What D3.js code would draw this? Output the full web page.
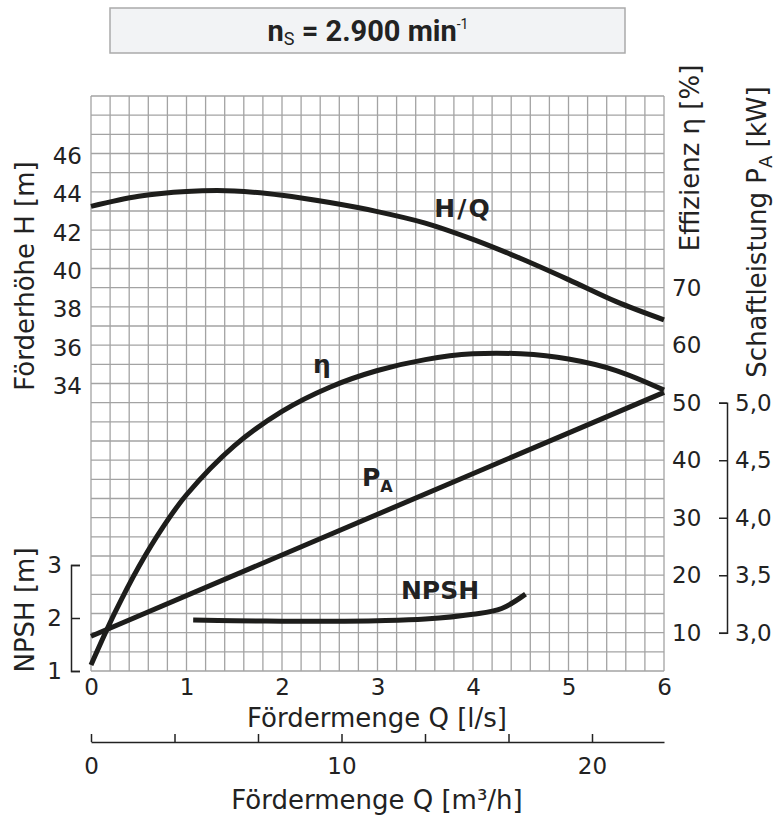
<!DOCTYPE html>
<html lang="de">
<head>
<meta charset="UTF-8">
<title>Pumpenkennlinie</title>
<script src="https://d3js.org/d3.v7.min.js"></script>
<style>
  body { margin: 0; background: #fff; }
  text { font-family: "DejaVu Sans", Verdana, sans-serif; fill: #222; }
  .tick text { font-size: 23px; }
  .axis-title { font-size: 26px; }
  .curve { fill: none; stroke: #1d1d1b; stroke-width: 5; }
  .grid line { stroke: #a3a3a3; stroke-width: 1.3; }
  .lbl { font-weight: bold; font-size: 25px; }
</style>
</head>
<body>
<div id="chart"></div>
<script>
// Förderhöhe H/Q [m] over Q [l/s]
const hqQ = [0, 0.5, 1, 1.5, 2, 2.5, 3, 3.5, 4, 4.5, 5, 5.5, 6];
const hqH = [43.37, 43.9, 44.15, 44.18, 43.95, 43.57, 43.1, 42.5, 41.65, 40.65, 39.55, 38.4, 37.45];

// Effizienz eta [%]
const etaQ = [0, 0.25, 0.5, 0.75, 1, 1.5, 2, 2.5, 3, 3.5, 4, 4.5, 5, 5.5, 6];
const etaV = [4.4, 13.5, 21.5, 28.3, 34.0, 42.5, 48.5, 52.7, 55.6, 57.5, 58.5, 58.5, 57.6, 55.6, 52.2];

// Schaftleistung P_A [kW]
const paQ = [0, 6];
const paV = [2.97, 5.09];

// NPSH [m]
const npshQ = [1.07, 1.5, 2, 2.5, 3, 3.5, 4, 4.3, 4.55];
const npshV = [1.96, 1.95, 1.94, 1.94, 1.95, 1.98, 2.07, 2.18, 2.45];

// tick labels
const hTicks = [34, 36, 38, 40, 42, 44, 46];
const etaTicks = [10, 20, 30, 40, 50, 60, 70];
const paTicks = [3.0, 3.5, 4.0, 4.5, 5.0];
const npshTicks = [1, 2, 3];
const qTicks = [0, 1, 2, 3, 4, 5, 6];
const m3hTicks = [0, 1, 2, 3, 4, 5, 6].map(i => i * 10 / 3);
const m3hLabels = [0, 10, 20];

const W = 780, H = 817;
const pLeft = 91, pRight = 664, pTop = 96, pBottom = 671;

const svg = d3.select("#chart").append("svg")
    .attr("width", W)
    .attr("height", H);

// scales
const x = d3.scaleLinear().domain([0, 6]).range([pLeft, pRight]);
const yH = d3.scaleLinear().domain([46, 34]).range([156, 386]);
const yEta = d3.scaleLinear().domain([70, 10]).range([287.7, 632.8]);
const yPA = d3.scaleLinear().domain([5, 3]).range([402.7, 632.8]);
const yN = d3.scaleLinear().domain([3, 1]).range([565, 671]);
const xM = d3.scaleLinear().domain([0, 20]).range([pLeft, 592]);
const xMfull = xM.copy().domain([0, xM.invert(pRight)]).range([pLeft, pRight]);

// grid 30 x 30
const gx = d3.scaleLinear().domain([0, 30]).range([pLeft, pRight]);
const gy = d3.scaleLinear().domain([0, 30]).range([pTop, pBottom]);
const grid = svg.append("g").attr("class", "grid");
grid.selectAll(".v").data(d3.range(31)).enter().append("line")
    .attr("x1", d => gx(d)).attr("x2", d => gx(d))
    .attr("y1", pTop).attr("y2", pBottom);
grid.selectAll(".h").data(d3.range(31)).enter().append("line")
    .attr("x1", pLeft).attr("x2", pRight)
    .attr("y1", d => gy(d)).attr("y2", d => gy(d));

// title box
svg.append("rect")
    .attr("x", 110).attr("y", 8).attr("width", 515).attr("height", 45)
    .attr("fill", "#f2f3f5").attr("stroke", "#aaaaaa").attr("stroke-width", 1.5);
const title = svg.append("text")
    .attr("x", 368).attr("y", 41)
    .attr("text-anchor", "middle")
    .style("font-family", "Roboto, sans-serif")
    .style("font-weight", "bold")
    .style("font-size", "29px");
title.append("tspan").text("n");
title.append("tspan").attr("dy", 4).style("font-size", "18px").style("font-weight", "normal").text("S");
title.append("tspan").attr("dy", -4).text(" = 2.900 min");
title.append("tspan").attr("dy", -12).style("font-size", "14px").style("font-weight", "normal").text("-1");

// left H axis
const axH = svg.append("g").attr("transform", `translate(${pLeft - 9},0)`)
    .call(d3.axisLeft(yH).tickValues(hTicks).tickSize(0).tickPadding(0));
axH.select(".domain").remove();

// NPSH axis (bracket)
const axN = svg.append("g").attr("transform", "translate(71,0)")
    .call(d3.axisLeft(yN).tickValues(npshTicks).tickSize(-9).tickPadding(9)
        .tickFormat(d3.format("d")));

// right eta axis
const axE = svg.append("g").attr("transform", `translate(${pRight + 8},0)`)
    .call(d3.axisRight(yEta).tickValues(etaTicks).tickSize(0).tickPadding(0));
axE.select(".domain").remove();

// right P_A axis (bracket)
const axP = svg.append("g").attr("transform", "translate(727,0)")
    .call(d3.axisRight(yPA).tickValues(paTicks).tickSize(-8).tickPadding(8)
        .tickFormat(d => d3.format(".1f")(d).replace(".", ",")));

// bottom Q axis [l/s]
const axQ = svg.append("g").attr("transform", `translate(0,${pBottom + 8})`)
    .call(d3.axisBottom(x).tickValues(qTicks).tickSize(0).tickPadding(0)
        .tickFormat(d3.format("d")));
axQ.select(".domain").remove();

// bottom Q axis [m3/h]
const axM = svg.append("g").attr("transform", "translate(0,742)")
    .call(d3.axisBottom(xMfull).tickValues(m3hTicks).tickSize(-8).tickSizeOuter(0).tickPadding(16)
        .tickFormat(d => m3hLabels.some(v => Math.abs(v - d) < 1e-6) ? Math.round(d) : ""));

svg.selectAll(".domain, .tick line").attr("stroke", "#222").attr("stroke-width", 1.5);

// axis titles
svg.append("text").attr("class", "axis-title")
    .attr("transform", "translate(34,276) rotate(-90)")
    .attr("text-anchor", "middle").text("Förderhöhe H [m]");
svg.append("text").attr("class", "axis-title")
    .attr("transform", "translate(34,610) rotate(-90)")
    .attr("text-anchor", "middle").text("NPSH [m]");
svg.append("text").attr("class", "axis-title")
    .attr("transform", "translate(699,158) rotate(-90)")
    .attr("text-anchor", "middle").text("Effizienz η [%]");
const tPA = svg.append("text").attr("class", "axis-title")
    .attr("transform", "translate(766,232) rotate(-90)")
    .attr("text-anchor", "middle");
tPA.append("tspan").text("Schaftleistung P");
tPA.append("tspan").attr("dy", 6).style("font-size", "18px").text("A");
tPA.append("tspan").attr("dy", -6).text(" [kW]");
svg.append("text").attr("class", "axis-title")
    .attr("x", 377).attr("y", 727)
    .attr("text-anchor", "middle").text("Fördermenge Q [l/s]");
svg.append("text").attr("class", "axis-title")
    .attr("x", 377).attr("y", 809)
    .attr("text-anchor", "middle").text("Fördermenge Q [m³/h]");

// curves
const mk = (qs, vs) => qs.map((q, i) => [q, vs[i]]);
const line = ys => d3.line().x(d => x(d[0])).y(d => ys(d[1])).curve(d3.curveCatmullRom);

svg.append("path").attr("class", "curve").attr("d", line(yH)(mk(hqQ, hqH)));
svg.append("path").attr("class", "curve").attr("d", line(yEta)(mk(etaQ, etaV)));
svg.append("path").attr("class", "curve").attr("d", line(yPA)(mk(paQ, paV)));
svg.append("path").attr("class", "curve").attr("d", line(yN)(mk(npshQ, npshV)));

// curve labels
svg.append("text").attr("class", "lbl").attr("x", 463).attr("y", 217)
    .attr("text-anchor", "middle").style("letter-spacing", "2px").text("H/Q");
svg.append("text").attr("class", "lbl").attr("x", 322).attr("y", 373)
    .attr("text-anchor", "middle").text("η");
const pl = svg.append("text").attr("class", "lbl").attr("x", 362).attr("y", 486);
pl.append("tspan").text("P");
pl.append("tspan").attr("dy", 6).style("font-size", "16px").text("A");
svg.append("text").attr("class", "lbl").attr("x", 440).attr("y", 599)
    .attr("text-anchor", "middle").text("NPSH");
</script>
</body>
</html>
